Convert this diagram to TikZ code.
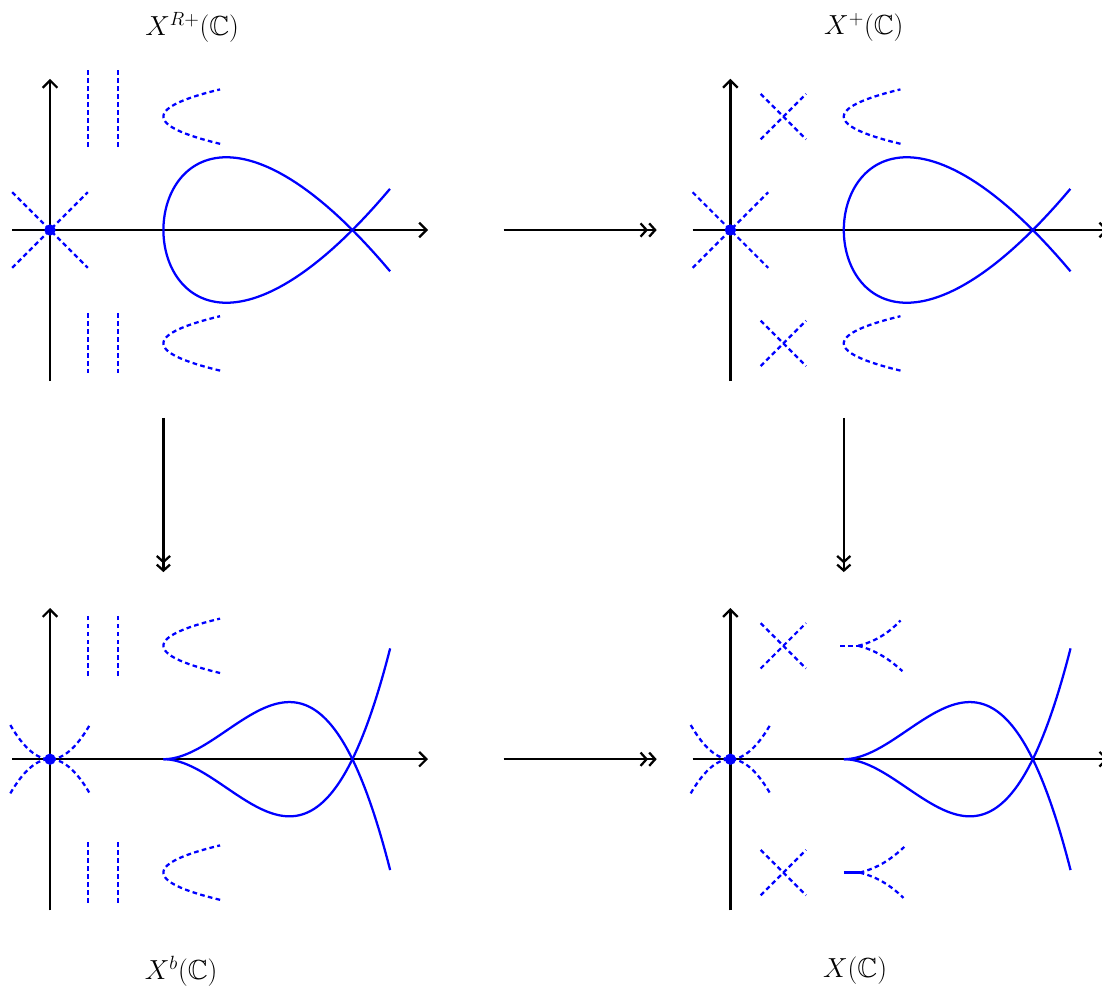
\documentclass[tikz,border=0pt]{standalone}
\usepackage{amssymb}
\usetikzlibrary{arrows.meta}
\begin{document}
\begin{tikzpicture}[
  ax/.style={draw=black, line width=1.7pt, -{Straight Barb[length=5.5pt,width=11pt,line width=1.7pt]}},
  curve/.style={draw=blue, line width=1.7pt},
  dcurve/.style={draw=blue, line width=1.7pt, dash pattern=on 3.5pt off 2.5pt},
  mapar/.style={draw=black, line width=1.7pt, -{Straight Barb[length=4.5pt,width=10pt,line width=1.7pt]Straight Barb[length=4.5pt,width=10pt,line width=1.7pt]}},
  lab/.style={font=\huge, inner sep=0pt}
]
\useasboundingbox (-1.323,-20.106) rectangle (27.831,6.085);

% ---------- top-left panel X^{R+}
\begin{scope}[shift={(0,0)}]
  \draw[ax] (-1,0) -- (10,0);
  \draw[ax] (0,-4) -- (0,4);
  \draw[dcurve] (-1,-1) -- (1,1);
  \draw[dcurve] (-1,1) -- (1,-1);
  \draw[dcurve] (1,2.2) -- (1,4.23);
  \draw[dcurve] (1.8,2.2) -- (1.8,4.23);
  \draw[dcurve] (1,-2.2) -- (1,-3.78);
  \draw[dcurve] (1.8,-2.2) -- (1.8,-3.78);
  \draw[dcurve] plot[domain=-0.72:0.72, samples=40] ({3+2.894*\x*\x}, {3+\x});
  \draw[dcurve] plot[domain=-0.72:0.72, samples=40] ({3+2.894*\x*\x}, {-3+\x});
  \draw[curve] plot[domain=-2.449:2.449, samples=120] ({3+\x*\x}, {0.4472*\x*(\x*\x-5)});
  \fill[blue] (0,0) circle (0.15);
\end{scope}

% ---------- top-right panel X^{+}
\begin{scope}[shift={(18,0)}]
  \draw[ax] (-1,0) -- (10,0);
  \draw[ax] (0,-4) -- (0,4);
  \draw[dcurve] (-1,-1) -- (1,1);
  \draw[dcurve] (-1,1) -- (1,-1);
  \draw[dcurve] (0.8,3.6) -- (2.0,2.4);
  \draw[dcurve] (0.8,2.4) -- (2.0,3.6);
  \draw[dcurve] (0.8,-3.6) -- (2.0,-2.4);
  \draw[dcurve] (0.8,-2.4) -- (2.0,-3.6);
  \draw[dcurve] plot[domain=-0.72:0.72, samples=40] ({3+2.894*\x*\x}, {3+\x});
  \draw[dcurve] plot[domain=-0.72:0.72, samples=40] ({3+2.894*\x*\x}, {-3+\x});
  \draw[curve] plot[domain=-2.449:2.449, samples=120] ({3+\x*\x}, {0.4472*\x*(\x*\x-5)});
  \fill[blue] (0,0) circle (0.15);
\end{scope}

% ---------- bottom-left panel X^b
\begin{scope}[shift={(0,-14)}]
  \draw[ax] (-1,0) -- (10,0);
  \draw[ax] (0,-4) -- (0,4);
  \draw[dcurve] plot[domain=-1.05:1.05, samples=40] (\x, {0.82*\x*\x});
  \draw[dcurve] plot[domain=-1.05:1.05, samples=40] (\x, {-0.82*\x*\x});
  \draw[dcurve] (1,2.2) -- (1,3.8);
  \draw[dcurve] (1.8,2.2) -- (1.8,3.8);
  \draw[dcurve] (1,-2.2) -- (1,-3.8);
  \draw[dcurve] (1.8,-2.2) -- (1.8,-3.8);
  \draw[dcurve] plot[domain=-0.72:0.72, samples=40] ({3+2.894*\x*\x}, {3+\x});
  \draw[dcurve] plot[domain=-0.72:0.72, samples=40] ({3+2.894*\x*\x}, {-3+\x});
  \draw[curve] plot[domain=3:9, samples=100] (\x, {0.0816*(\x-3)*(\x-3)*(8-\x)});
  \draw[curve] plot[domain=3:9, samples=100] (\x, {-0.0816*(\x-3)*(\x-3)*(8-\x)});
  \fill[blue] (0,0) circle (0.15);
\end{scope}

% ---------- bottom-right panel X
\begin{scope}[shift={(18,-14)}]
  \draw[ax] (-1,0) -- (10,0);
  \draw[ax] (0,-4) -- (0,4);
  \draw[dcurve] plot[domain=-1.05:1.05, samples=40] (\x, {0.82*\x*\x});
  \draw[dcurve] plot[domain=-1.05:1.05, samples=40] (\x, {-0.82*\x*\x});
  \draw[dcurve] (0.8,3.6) -- (2.0,2.4);
  \draw[dcurve] (0.8,2.4) -- (2.0,3.6);
  \draw[dcurve] (0.8,-3.6) -- (2.0,-2.4);
  \draw[dcurve] (0.8,-2.4) -- (2.0,-3.6);
  % upper small curve
  \draw[dcurve] (2.9,3) -- (3.38,3);
  \draw[dcurve] (3.38,3) .. controls (3.85,3.12) and (4.2,3.35) .. (4.5,3.67);
  \draw[dcurve] (3.38,3) .. controls (3.85,2.88) and (4.2,2.65) .. (4.55,2.33);
  % lower small curve
  \draw[curve] (3.0,-3) -- (3.42,-3);
  \draw[dcurve] (3.42,-3) .. controls (3.9,-2.88) and (4.25,-2.65) .. (4.6,-2.32);
  \draw[dcurve] (3.42,-3) .. controls (3.9,-3.12) and (4.25,-3.35) .. (4.58,-3.67);
  \draw[curve] plot[domain=3:9, samples=100] (\x, {0.0816*(\x-3)*(\x-3)*(8-\x)});
  \draw[curve] plot[domain=3:9, samples=100] (\x, {-0.0816*(\x-3)*(\x-3)*(8-\x)});
  \fill[blue] (0,0) circle (0.15);
\end{scope}

% ---------- maps
\coordinate (h1s) at (12,0);
\coordinate (h1e) at (16.05,0);
\coordinate (h2s) at (12,-14);
\coordinate (h2e) at (16.05,-14);
\coordinate (v1s) at (3,-4.97);
\coordinate (v1e) at (3,-9.05);
\coordinate (v2s) at (21,-4.97);
\coordinate (v2e) at (21,-9.05);
\draw[mapar] (h1s) -- (h1e);
\draw[mapar] (h2s) -- (h2e);
\draw[mapar] (v1s) -- (v1e);
\draw[mapar] (v2s) -- (v2e);

% ---------- labels
\node[lab] (lRp) at (3.76,5.35) {$X^{R+}(\mathbb{C})$};
\node[lab] (lp) at (21.53,5.35) {$X^{+}(\mathbb{C})$};
\node[lab] (lb) at (3.47,-19.62) {$X^{b}(\mathbb{C})$};
\node[lab] (lx) at (21.3,-19.58) {$X(\mathbb{C})$};
\end{tikzpicture}
\end{document}
